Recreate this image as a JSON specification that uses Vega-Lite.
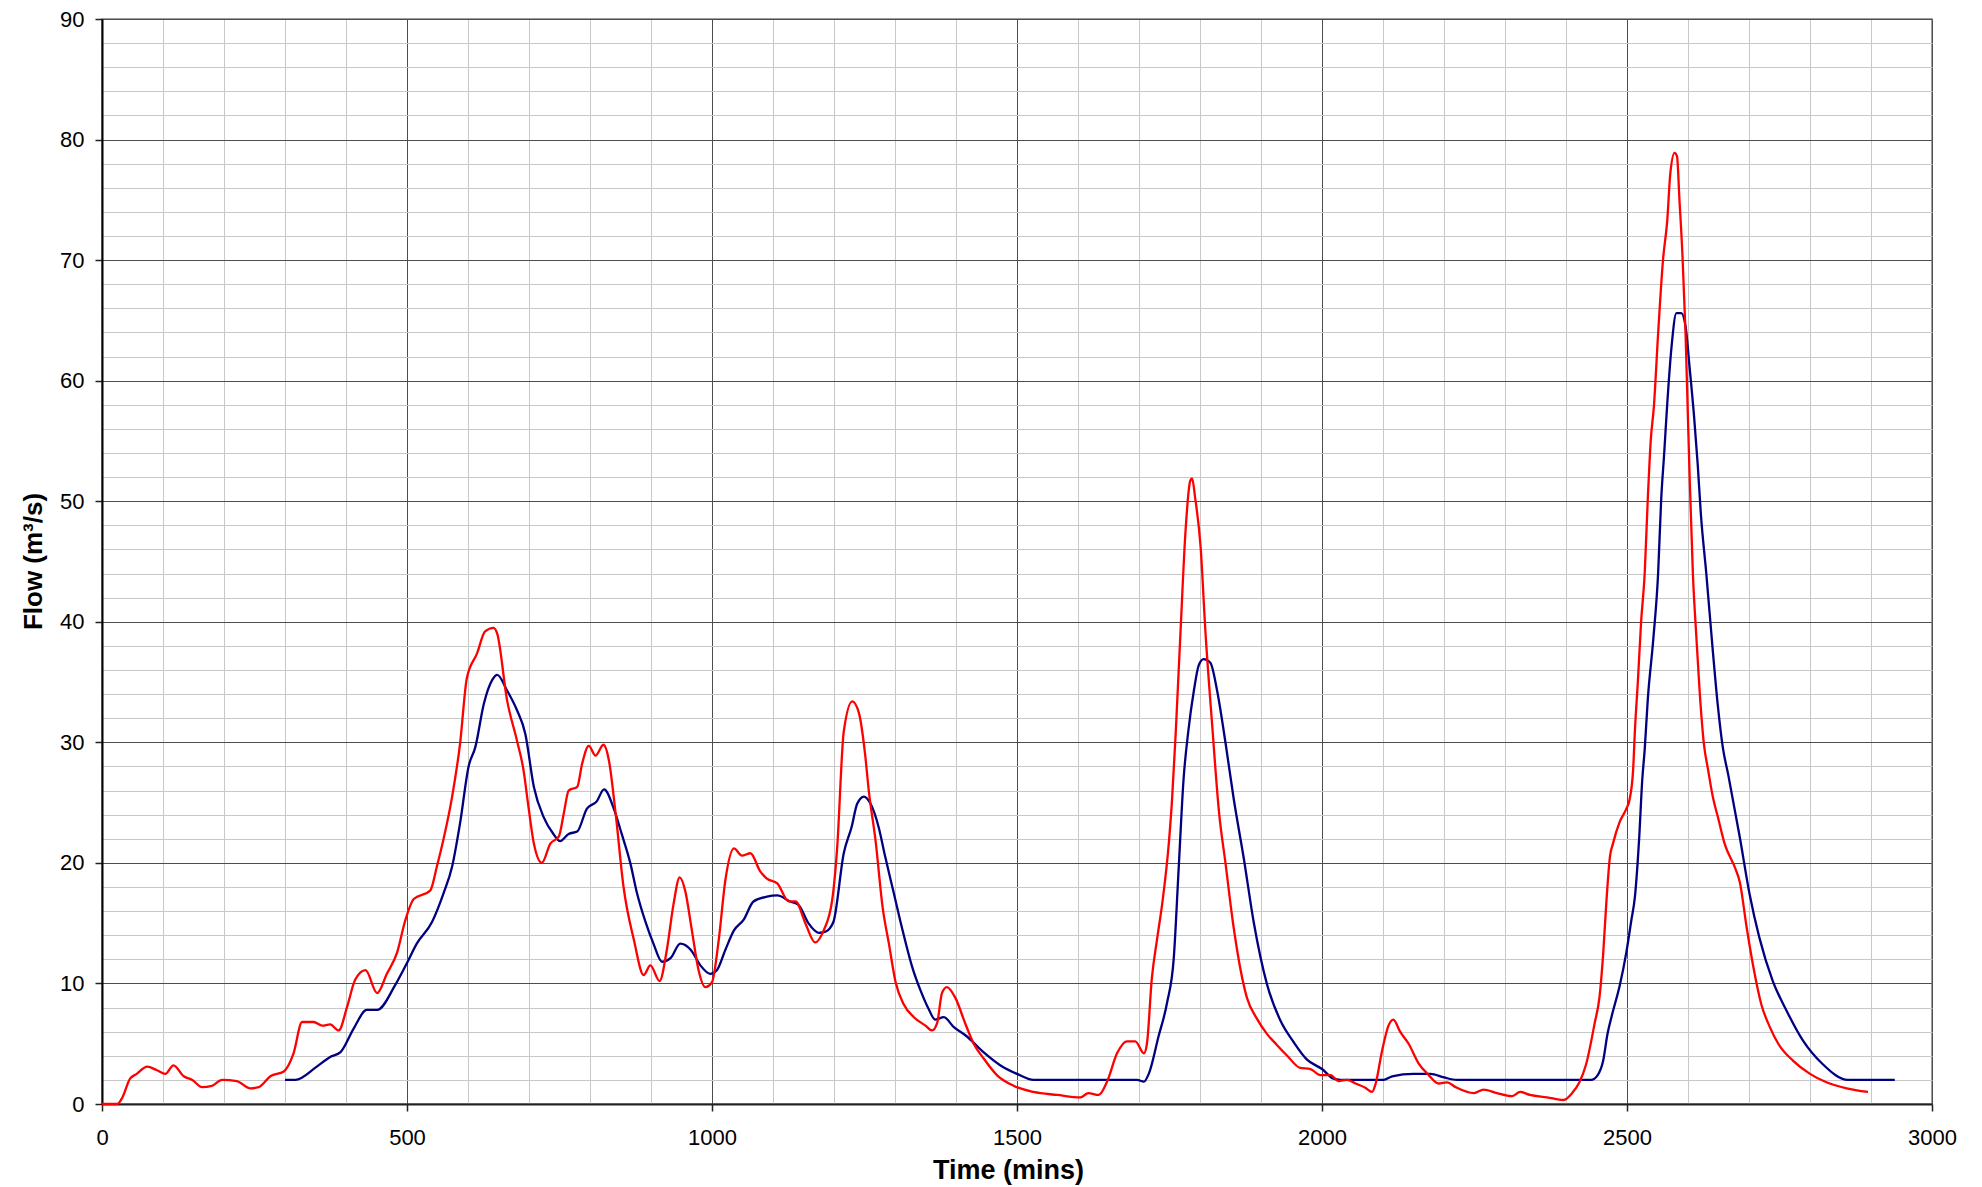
{
  "$schema": "https://vega.github.io/schema/vega-lite/v6.json",
  "width": 1830,
  "height": 1085,
  "autosize": {"type": "none"},
  "padding": {"left": 102, "top": 19, "right": 50, "bottom": 83},
  "background": "white",
  "config": {"view": {"stroke": "#808080", "strokeWidth": 1.5}, "font": "Liberation Sans"},
  "datasets": {
    "red": [
      {"t":0,"q":0},{"t":25,"q":0},{"t":33,"q":0.5},{"t":46,"q":2.1},{"t":57,"q":2.5},{"t":74,"q":3.1},{"t":90,"q":2.8},{"t":104,"q":2.5},{"t":117,"q":3.2},{"t":134,"q":2.3},{"t":148,"q":2.0},{"t":164,"q":1.4},{"t":180,"q":1.5},{"t":197,"q":2.0},{"t":221,"q":1.9},{"t":243,"q":1.3},{"t":257,"q":1.4},{"t":276,"q":2.3},{"t":298,"q":2.7},{"t":314,"q":4.2},{"t":328,"q":6.8},{"t":347,"q":6.8},{"t":361,"q":6.5},{"t":374,"q":6.6},{"t":388,"q":6.1},{"t":402,"q":8.1},{"t":415,"q":10.3},{"t":432,"q":11.1},{"t":451,"q":9.2},{"t":467,"q":10.8},{"t":484,"q":12.6},{"t":497,"q":15.2},{"t":511,"q":17.0},{"t":538,"q":17.7},{"t":549,"q":19.7},{"t":560,"q":22.0},{"t":574,"q":25.5},{"t":587,"q":29.9},{"t":598,"q":35.3},{"t":615,"q":37.4},{"t":628,"q":39.2},{"t":642,"q":39.5},{"t":648,"q":39.0},{"t":664,"q":33.5},{"t":680,"q":30.2},{"t":691,"q":27.7},{"t":699,"q":24.7},{"t":708,"q":21.6},{"t":721,"q":20.0},{"t":735,"q":21.6},{"t":749,"q":22.2},{"t":757,"q":24.1},{"t":765,"q":26.0},{"t":779,"q":26.3},{"t":787,"q":28.2},{"t":798,"q":29.7},{"t":809,"q":28.9},{"t":822,"q":29.8},{"t":831,"q":28.5},{"t":842,"q":24.1},{"t":855,"q":18.0},{"t":872,"q":13.6},{"t":888,"q":10.7},{"t":899,"q":11.5},{"t":914,"q":10.2},{"t":926,"q":12.8},{"t":937,"q":16.6},{"t":947,"q":18.8},{"t":956,"q":17.7},{"t":967,"q":14.4},{"t":978,"q":11.1},{"t":989,"q":9.7},{"t":1000,"q":10.1},{"t":1011,"q":13.6},{"t":1022,"q":18.6},{"t":1036,"q":21.2},{"t":1049,"q":20.6},{"t":1063,"q":20.8},{"t":1079,"q":19.3},{"t":1090,"q":18.7},{"t":1107,"q":18.3},{"t":1126,"q":16.8},{"t":1137,"q":16.8},{"t":1153,"q":15.0},{"t":1169,"q":13.4},{"t":1183,"q":14.4},{"t":1197,"q":16.9},{"t":1205,"q":21.1},{"t":1216,"q":30.9},{"t":1230,"q":33.4},{"t":1241,"q":32.4},{"t":1251,"q":29.0},{"t":1257,"q":26.0},{"t":1268,"q":21.9},{"t":1280,"q":16.2},{"t":1290,"q":13.3},{"t":1301,"q":10.1},{"t":1314,"q":8.3},{"t":1331,"q":7.2},{"t":1350,"q":6.5},{"t":1361,"q":6.1},{"t":1369,"q":6.7},{"t":1377,"q":9.2},{"t":1385,"q":9.7},{"t":1399,"q":8.8},{"t":1415,"q":6.7},{"t":1429,"q":5.0},{"t":1445,"q":3.8},{"t":1467,"q":2.4},{"t":1495,"q":1.5},{"t":1527,"q":1.0},{"t":1566,"q":0.75},{"t":1604,"q":0.55},{"t":1617,"q":0.9},{"t":1634,"q":0.75},{"t":1648,"q":1.9},{"t":1664,"q":4.2},{"t":1680,"q":5.2},{"t":1694,"q":5.2},{"t":1708,"q":4.2},{"t":1713,"q":5.0},{"t":1721,"q":10.4},{"t":1730,"q":13.8},{"t":1738,"q":16.6},{"t":1749,"q":21.7},{"t":1754,"q":25.1},{"t":1760,"q":30.6},{"t":1768,"q":39.1},{"t":1776,"q":47.3},{"t":1784,"q":51.7},{"t":1787,"q":51.9},{"t":1792,"q":50.3},{"t":1801,"q":46.2},{"t":1809,"q":39.1},{"t":1820,"q":31.4},{"t":1831,"q":24.3},{"t":1842,"q":19.9},{"t":1855,"q":14.7},{"t":1877,"q":8.8},{"t":1893,"q":7.1},{"t":1910,"q":5.8},{"t":1926,"q":4.9},{"t":1943,"q":4.0},{"t":1964,"q":3.0},{"t":1981,"q":2.9},{"t":1997,"q":2.4},{"t":2014,"q":2.4},{"t":2027,"q":1.9},{"t":2041,"q":2.0},{"t":2055,"q":1.7},{"t":2071,"q":1.35},{"t":2082,"q":1.0},{"t":2088,"q":1.7},{"t":2098,"q":4.3},{"t":2109,"q":6.5},{"t":2117,"q":7.0},{"t":2128,"q":6.0},{"t":2142,"q":5.0},{"t":2158,"q":3.4},{"t":2175,"q":2.4},{"t":2191,"q":1.7},{"t":2205,"q":1.8},{"t":2219,"q":1.4},{"t":2249,"q":0.9},{"t":2265,"q":1.2},{"t":2287,"q":0.9},{"t":2311,"q":0.65},{"t":2325,"q":1.0},{"t":2341,"q":0.75},{"t":2369,"q":0.55},{"t":2396,"q":0.33},{"t":2410,"q":0.9},{"t":2422,"q":1.8},{"t":2433,"q":3.3},{"t":2447,"q":6.7},{"t":2455,"q":8.9},{"t":2461,"q":12.5},{"t":2466,"q":16.6},{"t":2472,"q":20.5},{"t":2477,"q":21.6},{"t":2488,"q":23.4},{"t":2499,"q":24.5},{"t":2504,"q":25.2},{"t":2510,"q":27.7},{"t":2513,"q":31.0},{"t":2518,"q":35.2},{"t":2523,"q":39.9},{"t":2529,"q":44.0},{"t":2534,"q":50.1},{"t":2539,"q":55.1},{"t":2544,"q":57.8},{"t":2551,"q":63.9},{"t":2559,"q":70.0},{"t":2566,"q":73.3},{"t":2571,"q":77.2},{"t":2578,"q":78.9},{"t":2582,"q":78.6},{"t":2586,"q":75.0},{"t":2591,"q":70.3},{"t":2596,"q":63.9},{"t":2600,"q":56.7},{"t":2603,"q":51.5},{"t":2608,"q":44.0},{"t":2614,"q":38.5},{"t":2619,"q":34.3},{"t":2626,"q":29.9},{"t":2633,"q":27.7},{"t":2641,"q":25.4},{"t":2649,"q":23.8},{"t":2660,"q":21.6},{"t":2677,"q":19.6},{"t":2685,"q":18.4},{"t":2696,"q":14.7},{"t":2707,"q":11.4},{"t":2720,"q":8.3},{"t":2734,"q":6.4},{"t":2748,"q":5.0},{"t":2772,"q":3.6},{"t":2800,"q":2.5},{"t":2827,"q":1.8},{"t":2860,"q":1.3},{"t":2895,"q":1.0}
    ],
    "blue": [
      {"t":300,"q":2.0},{"t":317,"q":2.0},{"t":352,"q":3.1},{"t":374,"q":3.9},{"t":391,"q":4.3},{"t":413,"q":6.3},{"t":434,"q":7.8},{"t":451,"q":7.8},{"t":481,"q":9.9},{"t":500,"q":11.7},{"t":516,"q":13.3},{"t":541,"q":15.1},{"t":560,"q":17.5},{"t":574,"q":19.7},{"t":587,"q":23.3},{"t":601,"q":28.0},{"t":612,"q":29.6},{"t":626,"q":33.2},{"t":640,"q":35.2},{"t":648,"q":35.6},{"t":664,"q":34.3},{"t":680,"q":32.7},{"t":694,"q":30.7},{"t":708,"q":26.3},{"t":724,"q":23.8},{"t":740,"q":22.4},{"t":751,"q":21.8},{"t":765,"q":22.4},{"t":779,"q":22.6},{"t":795,"q":24.5},{"t":811,"q":25.1},{"t":823,"q":26.1},{"t":839,"q":24.5},{"t":852,"q":22.4},{"t":866,"q":20.0},{"t":877,"q":17.5},{"t":891,"q":15.1},{"t":904,"q":13.3},{"t":918,"q":11.8},{"t":932,"q":12.1},{"t":948,"q":13.3},{"t":965,"q":12.8},{"t":981,"q":11.5},{"t":997,"q":10.8},{"t":1008,"q":11.1},{"t":1022,"q":12.8},{"t":1036,"q":14.4},{"t":1052,"q":15.3},{"t":1068,"q":16.8},{"t":1090,"q":17.2},{"t":1107,"q":17.3},{"t":1128,"q":16.8},{"t":1142,"q":16.5},{"t":1158,"q":15.0},{"t":1175,"q":14.2},{"t":1186,"q":14.3},{"t":1199,"q":15.1},{"t":1216,"q":20.8},{"t":1229,"q":23.0},{"t":1238,"q":24.9},{"t":1249,"q":25.5},{"t":1260,"q":24.9},{"t":1273,"q":23.0},{"t":1284,"q":20.5},{"t":1298,"q":17.5},{"t":1311,"q":14.7},{"t":1328,"q":11.4},{"t":1342,"q":9.4},{"t":1355,"q":7.9},{"t":1366,"q":7.0},{"t":1380,"q":7.2},{"t":1396,"q":6.4},{"t":1418,"q":5.6},{"t":1445,"q":4.3},{"t":1473,"q":3.2},{"t":1500,"q":2.5},{"t":1527,"q":2.0},{"t":1697,"q":2.0},{"t":1708,"q":1.85},{"t":1716,"q":2.5},{"t":1732,"q":5.6},{"t":1746,"q":8.4},{"t":1757,"q":12.1},{"t":1765,"q":19.5},{"t":1773,"q":26.9},{"t":1781,"q":31.0},{"t":1790,"q":34.3},{"t":1798,"q":36.4},{"t":1806,"q":36.9},{"t":1817,"q":36.6},{"t":1828,"q":34.3},{"t":1842,"q":29.9},{"t":1855,"q":25.4},{"t":1872,"q":20.3},{"t":1888,"q":15.1},{"t":1910,"q":9.9},{"t":1932,"q":6.9},{"t":1954,"q":5.1},{"t":1975,"q":3.7},{"t":2000,"q":2.9},{"t":2019,"q":2.1},{"t":2030,"q":2.0},{"t":2101,"q":2.0},{"t":2115,"q":2.3},{"t":2150,"q":2.5},{"t":2178,"q":2.5},{"t":2200,"q":2.2},{"t":2221,"q":2.0},{"t":2441,"q":2.0},{"t":2452,"q":2.4},{"t":2461,"q":3.6},{"t":2468,"q":5.8},{"t":2476,"q":7.5},{"t":2488,"q":9.8},{"t":2499,"q":12.6},{"t":2507,"q":15.2},{"t":2513,"q":17.2},{"t":2520,"q":22.1},{"t":2525,"q":26.9},{"t":2529,"q":29.4},{"t":2534,"q":33.5},{"t":2543,"q":38.5},{"t":2551,"q":44.0},{"t":2556,"q":50.1},{"t":2561,"q":54.0},{"t":2566,"q":58.1},{"t":2573,"q":62.8},{"t":2581,"q":65.6},{"t":2589,"q":65.6},{"t":2596,"q":64.5},{"t":2603,"q":60.9},{"t":2610,"q":57.0},{"t":2616,"q":53.0},{"t":2621,"q":49.0},{"t":2630,"q":44.0},{"t":2641,"q":37.4},{"t":2649,"q":33.0},{"t":2657,"q":29.6},{"t":2666,"q":27.3},{"t":2685,"q":22.1},{"t":2701,"q":17.4},{"t":2717,"q":13.8},{"t":2739,"q":10.2},{"t":2761,"q":7.8},{"t":2788,"q":5.3},{"t":2821,"q":3.3},{"t":2862,"q":2.0},{"t":2939,"q":2.0}
    ]
  },
  "layer": [
    {
      "data": {"name": "blue"},
      "mark": {"type": "line", "color": "#000080", "strokeWidth": 2.3, "interpolate": "monotone"},
      "encoding": {
        "x": {"field": "t", "type": "quantitative",
          "scale": {"domain": [0, 3000], "nice": false, "zero": false},
          "axis": {"orient": "bottom", "values": [0,100,200,300,400,500,600,700,800,900,1000,1100,1200,1300,1400,1500,1600,1700,1800,1900,2000,2100,2200,2300,2400,2500,2600,2700,2800,2900,3000],
            "grid": true, "gridColor": "#c8c8c8", "gridWidth": 1, "labels": false, "ticks": false, "domain": false, "title": null}},
        "y": {"field": "q", "type": "quantitative",
          "scale": {"domain": [0, 90], "nice": false},
          "axis": {"orient": "left", "values": [0,2,4,6,8,10,12,14,16,18,20,22,24,26,28,30,32,34,36,38,40,42,44,46,48,50,52,54,56,58,60,62,64,66,68,70,72,74,76,78,80,82,84,86,88,90],
            "grid": true, "gridColor": "#c8c8c8", "gridWidth": 1, "labels": false, "ticks": false, "domain": false, "title": null}}
      }
    },
    {
      "data": {"name": "red"},
      "mark": {"type": "line", "color": "#ff0000", "strokeWidth": 2.3, "interpolate": "monotone"},
      "encoding": {
        "x": {"field": "t", "type": "quantitative",
          "scale": {"domain": [0, 3000], "nice": false, "zero": false},
          "axis": {"orient": "bottom", "values": [0,500,1000,1500,2000,2500,3000], "format": "d",
            "grid": true, "gridColor": "#4d4d4d", "gridWidth": 1,
            "domain": true, "domainColor": "#222222", "domainWidth": 2,
            "ticks": true, "tickSize": 7, "tickColor": "#222222", "tickWidth": 1.5,
            "labelFont": "Liberation Sans", "labelFontSize": 22, "labelColor": "#000000", "labelPadding": 16, "labelFlush": false,
            "title": "Time (mins)", "titleFont": "Liberation Sans", "titleFontSize": 27, "titleFontWeight": "bold", "titleColor": "#000000",
            "titleX": 906, "titleY": 74, "titleBaseline": "alphabetic", "titleAlign": "center"}},
        "y": {"field": "q", "type": "quantitative",
          "scale": {"domain": [0, 90], "nice": false},
          "axis": {"orient": "left", "values": [0,10,20,30,40,50,60,70,80,90], "format": "d",
            "grid": true, "gridColor": "#4d4d4d", "gridWidth": 1,
            "domain": true, "domainColor": "#000000", "domainWidth": 2,
            "ticks": true, "tickSize": 7, "tickColor": "#222222", "tickWidth": 1.5,
            "labelFont": "Liberation Sans", "labelFontSize": 22, "labelColor": "#000000", "labelPadding": 11, "labelFlush": false,
            "title": "Flow (m³/s)", "titleFont": "Liberation Sans", "titleFontSize": 26, "titleFontWeight": "bold", "titleColor": "#000000",
            "titleX": -61, "titleY": 542, "titleAngle": -90, "titleBaseline": "alphabetic", "titleAlign": "center"}}
      }
    }
  ],
  "resolve": {"axis": {"x": "independent", "y": "independent"}}
}
